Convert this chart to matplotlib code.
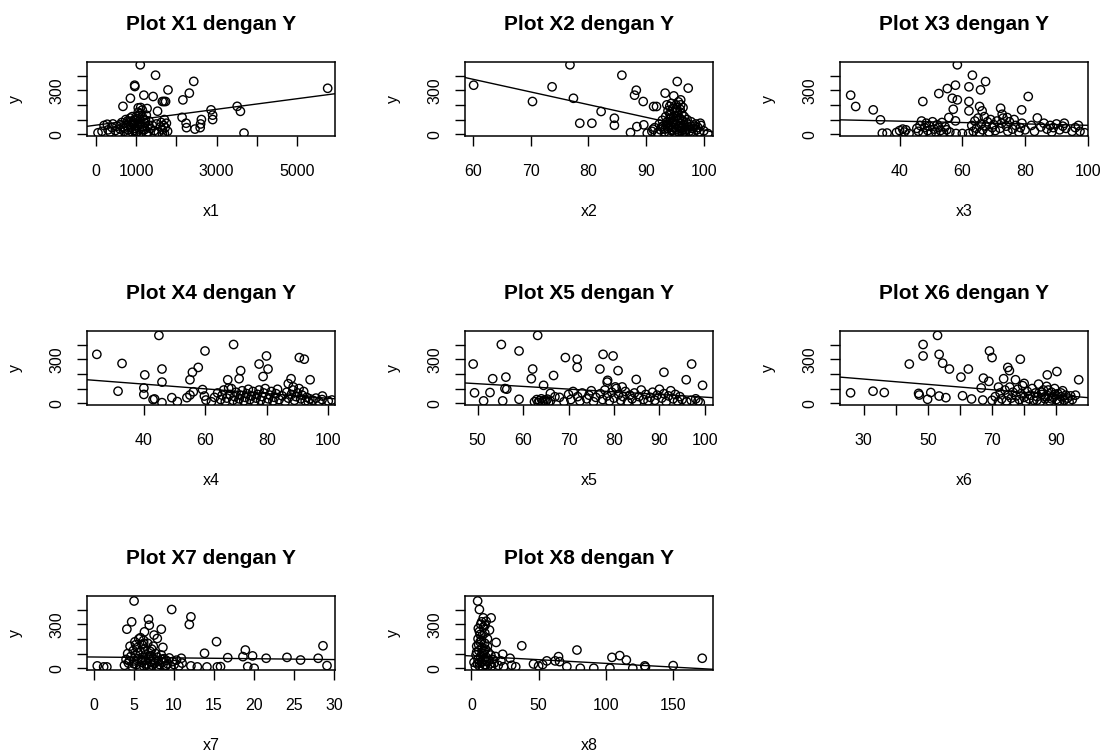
import matplotlib
matplotlib.use("Agg")
import matplotlib.pyplot as plt

plt.rcParams["font.family"] = ["Liberation Sans", "DejaVu Sans"]

# ---- data (x, y) per panel ----
x1 = [1100, 1480, 2430, 960, 965, 1790, 2320, 1190, 1420, 855, 2160, 1650, 1690, 1730, 670,
      1050, 1110, 1270, 1530, 1150, 2860, 3510, 3590, 2900, 2900, 2140, 2620, 2600, 2590, 2460,
      2240, 2250, 3680, 5760,
      50, 150, 200, 280, 300, 350, 400, 420, 480, 520, 560, 600, 640, 680, 700, 740, 760, 800,
      820, 850, 870, 900, 920, 950, 980, 1000, 1020, 1040, 1060, 1080, 1100, 1120, 1150, 1180,
      1200, 1220, 1250, 1270, 1300, 1320, 1350, 1400, 1450, 1500, 1550, 1600, 1620, 1650, 1680,
      1700, 1720, 1750, 1780, 1650, 1700, 900, 1000, 1100, 800, 600, 1250, 1050, 1150, 950, 880,
      700, 780, 860, 940, 1020, 1080, 1160, 1230, 1310]
y1 = [473, 402, 360, 334, 325, 302, 280, 266, 257, 245, 234, 223, 223, 223, 190,
      180, 182, 175, 157, 165, 166, 190, 156, 130, 100, 115, 100, 70, 45, 35,
      75, 45, 8, 313,
      10, 20, 60, 68, 30, 15, 45, 70, 25, 55, 10, 35, 80, 50, 20, 100, 60, 30,
      85, 110, 45, 15, 70, 95, 40, 120, 20, 60, 85, 35, 140, 10, 55, 100,
      30, 75, 130, 50, 15, 90, 40, 60, 25, 70, 10, 50, 80, 30, 60,
      5, 45, 75, 20, 5, 100, 120, 5, 100, 5, 65, 5, 150, 120, 75, 90,
      40, 90, 65, 25, 105, 70, 30, 95, 60]

x2 = [76.8, 85.8, 60.1, 73.7, 95.4, 97.3, 88.3, 88.0, 70.3, 77.4, 89.5, 93.3, 94.8, 96.0,
      91.3, 91.8, 96.4, 82.2, 84.5, 84.5, 78.5, 80.6, 87.3, 88.4, 89.6, 90.2, 91.2, 99.4,
      100.0, 100.7,
      91.0, 91.5, 92.0, 92.3, 92.5, 92.8, 93.0, 93.2, 93.4, 93.5, 93.7, 93.8, 94.0, 94.0,
      94.1, 94.2, 94.3, 94.4, 94.5, 94.6, 94.7, 94.8, 94.9, 95.0, 95.1, 95.2, 95.3, 95.4,
      95.5, 95.6, 95.7, 95.8, 95.9, 96.0, 96.1, 96.2, 96.3, 96.4, 96.5, 96.6, 96.8, 97.0,
      97.1, 97.3, 97.5, 97.6, 97.8, 98.0, 98.2, 98.4, 98.6, 98.8, 99.0, 99.2, 99.5, 96.0,
      93.6, 94.4, 95.3, 95.6,
      93.9, 94.3, 94.6, 94.9, 95.2, 95.5, 95.8, 96.1, 96.4, 96.7, 97.2, 94.1, 94.7, 95.4,
      96.2, 93.3, 92.7, 97.7]
y2 = [473, 402, 334, 323, 359, 314, 300, 266, 223, 245, 223, 280, 261, 234,
      189, 189, 182, 155, 109, 61, 75, 75, 11, 52, 64, 7, 34, 75,
      23, 5,
      20, 45, 10, 70, 30, 95, 55, 15, 120, 80, 40, 160, 5, 100,
      190, 60, 135, 25, 85, 175, 45, 115, 10, 150, 70, 200, 35, 95,
      130, 55, 15, 110, 170, 75, 40, 140, 5, 90, 60, 120, 30, 80,
      100, 50, 20, 65, 85, 40, 10, 55, 70, 30, 45, 15, 60, 200,
      200, 210, 180, 220,
      65, 110, 30, 90, 120, 20, 60, 100, 45, 15, 35, 140, 75, 160, 25, 35, 50, 10]

x3 = [58.4, 63.2, 67.4, 24.4, 26.0, 31.6, 33.9, 34.5, 47.4, 52.5, 55.2, 57.8, 62.1, 65.8,
      56.8, 58.4, 62.1, 62.1, 57.1, 65.5, 66.3, 72.2, 78.9, 81.0, 83.9, 72.7, 74.3, 55.7, 57.8,
      36, 39, 40, 41, 41.5, 42, 43, 45.5, 46, 46.5, 47, 47.5, 48, 48.5, 49, 49.5, 50, 50.5,
      51, 51.5, 52, 52.5, 53, 53.5, 54, 54.5, 55, 56, 58, 60, 62, 63, 63.5, 64, 64.5, 65,
      65.5, 66, 66.5, 67, 67.5, 68, 68.5, 69, 69.5, 70, 70.5, 71, 72, 72.5, 73, 74, 74.5,
      75, 76, 76.5, 77, 78, 78.5, 79, 80, 82, 83, 85, 86, 87, 88, 88.5, 89, 90, 91, 92,
      92.5, 93, 95, 96, 97, 97.5, 99]
y3 = [473, 402, 359, 266, 189, 166, 98, 7, 223, 277, 311, 334, 323, 302,
      245, 234, 223, 159, 170, 189, 159, 177, 166, 257, 111, 136, 114, 114, 91,
      8, 12, 25, 35, 15, 30, 5, 40, 20, 60, 90, 10, 45, 75, 25, 55, 5, 85,
      35, 15, 65, 45, 25, 80, 10, 50, 30, 15, 5, 5, 5, 60, 20, 90, 40, 110,
      10, 70, 30, 120, 55, 85, 15, 100, 45, 65, 25, 90, 40, 75, 110, 55, 20,
      85, 35, 100, 60, 15, 45, 75, 30, 60, 20, 50, 75, 35, 60, 15, 45, 70, 30, 55,
      75, 40, 20, 45, 60, 20, 10]

x4 = [44.9, 24.7, 32.9, 40.3, 45.9, 45.9, 31.6, 40.0, 40.0, 43.5, 43.0, 45.9, 49.1, 50.9,
      54.0, 55.0, 55.0, 55.8, 57.7, 56.1, 59.9, 59.1, 59.7, 60.2, 69.2, 79.9, 77.5, 80.4,
      71.5, 71.0, 67.3, 67.6, 78.8, 90.6, 92.2, 94.1, 87.9, 87.0, 88.6, 98.1, 101.2,
      62, 63, 64, 65, 65.5, 66, 66.5, 67, 68, 68.5, 69, 69.5, 70, 70.5, 71, 71.5, 72, 72.5,
      73, 73.5, 74, 74.5, 75, 75.5, 76, 76.5, 77, 77.5, 78, 78.5, 79, 79.5, 80, 80.5, 81,
      81.5, 82, 82.5, 83, 83.5, 84, 85, 86, 86.5, 87, 88, 88.5, 89, 89.5, 90, 90.5, 91,
      91.5, 92, 92.5, 93, 93.5, 94, 95, 96, 97, 98, 100]
y4 = [462, 333, 271, 193, 233, 144, 82, 104, 60, 29, 25, 4, 38, 11,
      38, 56, 160, 211, 244, 78, 356, 93, 49, 22, 400, 322, 267, 233,
      222, 167, 160, 104, 182, 311, 300, 160, 167, 133, 111, 49, 22,
      10, 40, 70, 25, 55, 90, 10, 35, 60, 100, 20, 45, 75, 5, 30, 55, 85, 15,
      40, 65, 95, 25, 50, 80, 10, 35, 60, 90, 20, 45, 70, 100, 5, 30, 55,
      80, 15, 40, 65, 95, 25, 50, 10, 75, 35, 60, 90, 20, 45, 70, 100, 30,
      55, 80, 15, 40, 10, 30, 20, 35, 10, 25, 15]

x5 = [63.2, 55.2, 59.1, 49.0, 69.3, 71.9, 71.9, 77.6, 79.8, 76.9, 80.9, 97.1, 91.0, 62.1,
      61.8, 53.3, 56.2, 66.7, 64.5, 78.6, 78.5, 84.9, 95.9, 99.5, 80.3, 81.8, 49.3, 51.3,
      55.5, 59.1, 52.7, 56.4, 56.0, 66.0, 67.0,
      62.5, 63, 63.3, 63.6, 64, 64.3, 64.6, 65, 65.3, 65.6, 66, 68, 69, 70, 70.5, 71, 72,
      72.5, 73, 74, 74.5, 75, 75.5, 76, 77, 77.5, 78, 78.5, 79, 79.5, 80, 80.5, 81, 81.5,
      82, 82.5, 83, 83.5, 84, 84.5, 85, 85.5, 86, 86.5, 87, 87.5, 88, 88.5, 89, 89.5, 90,
      90.5, 91, 91.5, 92, 92.5, 93, 93.5, 94, 94.5, 95, 96, 97, 98, 98.5, 99]
y5 = [462, 400, 356, 267, 311, 300, 244, 333, 322, 233, 222, 267, 211, 233,
      167, 167, 178, 189, 122, 156, 144, 162, 160, 122, 111, 111, 71, 16,
      16, 27, 73, 96, 100, 67, 44,
      10, 25, 5, 18, 30, 8, 20, 12, 28, 5, 15, 40, 10, 60, 25, 80, 45,
      15, 70, 30, 55, 85, 10, 40, 65, 25, 90, 50, 15, 75, 35, 100, 60, 20,
      45, 80, 10, 55, 30, 70, 5, 45, 90, 25, 60, 15, 40, 75, 20, 55, 95,
      35, 65, 10, 50, 85, 30, 60, 15, 45, 25, 10, 20, 30, 15, 5]

x6 = [53.0, 48.5, 48.5, 53.5, 44.2, 54.6, 56.7, 62.6, 60.3, 69.2, 70.0, 78.8, 74.9, 75.4,
      90.2, 87.2, 97.0, 67.3, 69.0, 73.6, 77.3, 25.9, 32.9, 36.4, 47.1, 47.3, 50.9, 49.9,
      53.5, 55.6, 60.8, 63.6, 67.1, 66.6,
      70, 71, 72, 72.5, 73, 74, 74.5, 75, 75.5, 76, 76.5, 77, 77.5, 78, 78.5, 79, 79.5, 80,
      80.5, 81, 81.5, 82, 82.5, 83, 83.5, 84, 84.5, 85, 85.5, 86, 86.5, 87, 87.5, 88, 88.5,
      89, 89.5, 90, 90.5, 91, 91.5, 92, 92.5, 93, 93.5, 94, 94.5, 95, 96, 72, 80,
      84, 85.5, 86.5, 87.5, 88.5, 89.5, 90.5, 91.5]
y6 = [462, 400, 322, 333, 267, 273, 233, 233, 178, 356, 311, 300, 244, 222,
      216, 193, 160, 171, 149, 167, 160, 71, 82, 73, 67, 56, 73, 27,
      49, 38, 51, 29, 22, 104,
      20, 45, 10, 70, 30, 90, 15, 55, 110, 35, 75, 5, 50, 95, 25, 65, 120, 40,
      10, 80, 30, 55, 100, 20, 70, 45, 130, 10, 60, 90, 30, 115, 50, 15, 75,
      40, 100, 25, 65, 5, 45, 85, 20, 55, 35, 10, 50, 25, 55, 110, 135,
      20, 75, 45, 90, 30, 60, 15, 70]

x7 = [5.0, 9.7, 12.1, 11.9, 4.7, 4.1, 6.8, 6.9, 6.3, 5.8, 6.2, 7.5, 8.4, 7.9, 8.6, 15.3,
      13.8, 18.9, 18.6, 19.8, 21.5, 24.1, 25.8, 28.0, 28.6, 29.1, 19.2, 20.0, 16.7, 10.9,
      12.1, 0.4, 1.2, 1.6, 12.9, 14.1, 15.4, 15.8,
      3.8, 4.0, 4.2, 4.3, 4.5, 4.6, 4.8, 4.9, 5.0, 5.1, 5.2, 5.3, 5.4, 5.5, 5.6, 5.7, 5.8,
      5.9, 6.0, 6.1, 6.2, 6.3, 6.4, 6.5, 6.6, 6.7, 6.8, 6.9, 7.0, 7.1, 7.2, 7.3, 7.4, 7.5,
      7.6, 7.7, 7.8, 7.9, 8.0, 8.2, 8.4, 8.5, 8.7, 8.9, 9.0, 9.2, 9.4, 9.6, 9.8, 10.0,
      10.3, 10.6, 11.0,
      4.4, 5.0, 5.5, 6.0, 6.5, 7.0, 7.5, 8.0, 8.5, 9.0, 5.2, 6.2, 7.2]
y7 = [458, 400, 350, 298, 316, 266, 334, 293, 248, 208, 169, 226, 266, 203, 142, 181,
      102, 124, 79, 84, 68, 74, 56, 68, 153, 18, 11, 0, 72, 68,
      16, 16, 9, 9, 9, 9, 9, 11,
      20, 60, 100, 35, 150, 80, 10, 120, 50, 180, 90, 25, 140, 65, 200, 5, 110,
      40, 160, 75, 15, 130, 55, 95, 30, 170, 70, 10, 115, 45, 85, 20, 150, 60,
      35, 100, 5, 75, 50, 25, 90, 40, 65, 15, 55, 30, 70, 10, 45, 25,
      55, 15, 35,
      50, 30, 105, 55, 20, 85, 35, 10, 60, 20, 160, 190, 130]

x8 = [4.7, 6.0, 14.7, 8.9, 7.7, 10.2, 5.2, 18.4, 37.5, 78.5, 104.5, 110.3, 115.2, 171.6,
      150.0, 128.9, 129.4, 64.8, 65.6, 46.2, 23.3, 28.8, 56.1, 62.3, 71.0, 81.0, 91.0,
      103.0, 120.0,
      2, 3, 3.5, 4, 4.5, 5, 5, 5.5, 6, 6, 6.5, 7, 7, 7.5, 8, 8, 8.5, 9, 9, 9.5, 10, 10,
      10.5, 11, 11, 11.5, 12, 12, 12.5, 13, 13.5, 14, 14.5, 15, 16, 17, 18, 20, 22, 24,
      4, 5.5, 6.5, 7.5, 8.5, 9.5, 10.5, 6, 8, 10, 12, 30, 33, 50, 53]
y8 = [458, 400, 343, 343, 316, 293, 271, 176, 153, 124, 74, 86, 56, 68,
      18, 16, 7, 79, 45, 29, 95, 68, 50, 50, 11, 0, 0,
      0, 0,
      40, 10, 90, 150, 30, 200, 60, 120, 250, 15, 180, 80, 300, 40, 140, 220, 5, 100, 280,
      60, 170, 25, 130, 320, 75, 45, 200, 10, 110, 55, 260, 30, 90, 15, 60, 35, 80, 20, 50, 10,
      110, 160, 230, 190, 60, 120, 20, 35, 100, 240, 150, 20, 10, 15, 25]

# fitted lines (intercept, slope)
intercepts = [62, 892, 107.9, 194.6, 224.4, 218.9, 76.5, 83.6]
slopes = [0.036, -8.63, -0.47, -1.61, -1.83, -1.81, -0.58, -0.505]

titles = ["Plot X%d dengan Y" % i for i in range(1, 9)]
xlabels = ["x%d" % i for i in range(1, 9)]
xs = [x1, x2, x3, x4, x5, x6, x7, x8]
ys = [y1, y2, y3, y4, y5, y6, y7, y8]

# axis setup per panel (R-style ranges, ticks, labels that survive overlap)
xlims = [(-224, 5942), (58.6, 101.6), (21.0, 100.05), (21.5, 102.2),
         (47.2, 101.8), (22.6, 99.9), (-0.88, 30.1), (-4.7, 179.6)]
xticks = [[0, 1000, 2000, 3000, 4000, 5000], [60, 70, 80, 90, 100], [40, 60, 80, 100],
          [40, 60, 80, 100], [50, 60, 70, 80, 90, 100], [30, 40, 50, 60, 70, 80, 90],
          [0, 5, 10, 15, 20, 25, 30], [0, 50, 100, 150]]
xticklabels = [["0", "1000", "", "3000", "", "5000"], ["60", "70", "80", "90", "100"],
               ["40", "60", "80", "100"], ["40", "60", "80", "100"],
               ["50", "60", "70", "80", "90", "100"],
               ["30", "", "50", "", "70", "", "90"],
               ["0", "5", "10", "15", "20", "25", "30"], ["0", "50", "100", "150"]]
yticks = [0, 100, 200, 300, 400]
yticklabels = ["0", "", "", "300", ""]

W, H = 1106, 753
fig = plt.figure(figsize=(W / 100, H / 100), dpi=100)

col_left = [87, 465, 840]
row_top = [62, 331, 596]
box_w, box_h = 248, 74

for i in range(8):
    r, c = divmod(i, 3)
    left = col_left[c]
    top = row_top[r]
    ax = fig.add_axes([left / W, 1 - (top + box_h) / H, box_w / W, box_h / H])
    ax.scatter(xs[i], ys[i], s=36, facecolors="none", edgecolors="black",
               linewidths=1.0, zorder=3)
    ax.axline((0, intercepts[i]), slope=slopes[i], color="black", lw=1.0)
    ax.set_xlim(*xlims[i])
    ax.set_ylim(-12, 492)
    ax.set_xticks(xticks[i])
    ax.set_xticklabels(xticklabels[i])
    ax.set_yticks(yticks)
    ax.set_yticklabels(yticklabels, rotation=90, va="center")
    ax.tick_params(axis="both", direction="out", length=7, width=1.0,
                   labelsize=11.5, color="black")
    ax.tick_params(axis="x", pad=13)
    ax.tick_params(axis="y", pad=9)
    for sp in ax.spines.values():
        sp.set_linewidth(1.1)
    ax.set_title(titles[i], fontsize=15, fontweight="bold", pad=23)
    ax.set_xlabel(xlabels[i], fontsize=11.5, va="center")
    ax.xaxis.set_label_coords(0.5, -75 / box_h)
    ax.set_ylabel("y", fontsize=11.5, va="center")
    ax.yaxis.set_label_coords(-72 / box_w, 0.5)

fig.savefig("out.png", dpi=100)
